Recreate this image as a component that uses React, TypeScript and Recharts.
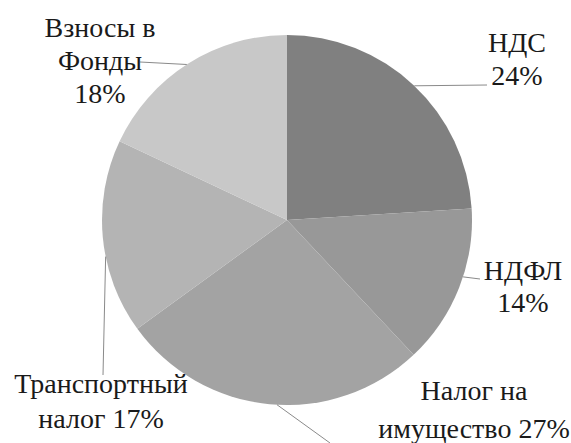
import { Cell, Pie, PieChart } from 'recharts';

// Структура налогов, %
const names = ['НДС', 'НДФЛ', 'Налог на имущество', 'Транспортный налог', 'Взносы в Фонды'];
const shares = [24, 14, 27, 17, 18];
const colors = ['#808080', '#989898', '#a3a3a3', '#b4b4b4', '#c8c8c8'];

// как подпись разбита на строки (последняя строка получает процент)
const labelRows = [['НДС', ''], ['НДФЛ', ''], ['Налог на', 'имущество'], ['Транспортный', 'налог'], ['Взносы в', 'Фонды', '']];

// раскладка подписей относительно центра круга
const labelLayout = [
  { anchorDeg: 46.5, end: [200, -135], text: [230, -168], step: 33 },
  { anchorDeg: -17.9, end: [193, 59], text: [236, 60], step: 32 },
  { anchorDeg: -93.1, end: [43, 223], text: [187, 180], step: 38 },
  { anchorDeg: -168.6, end: [-184, 155], text: [-186, 173], step: 35 },
  { anchorDeg: 122.8, end: [-147, -158], text: [-187, -183], step: 33 },
];

const chartData = names.map((name, i) => ({ name, value: shares[i] }));

const RADIAN = Math.PI / 180;
const SERIF = 'Liberation Serif';

function renderLabel(props: any) {
  const { cx, cy, outerRadius, index } = props;
  const lay = labelLayout[index];
  const ax = cx + outerRadius * Math.cos(lay.anchorDeg * RADIAN);
  const ay = cy - outerRadius * Math.sin(lay.anchorDeg * RADIAN);
  const rows = labelRows[index].map((r, j, arr) =>
    j === arr.length - 1 ? (r ? `${r} ${shares[index]}%` : `${shares[index]}%`) : r
  );
  const tx = cx + lay.text[0];
  const ty = cy + lay.text[1];
  return (
    <g key={`lbl-${index}`} fontFamily={SERIF}>
      <line x1={ax} y1={ay} x2={cx + lay.end[0]} y2={cy + lay.end[1]} stroke="#8a8a8a" strokeWidth={1} />
      {rows.map((r, j) => (
        <text
          key={j}
          x={tx}
          y={ty + j * lay.step}
          textAnchor="middle"
          fill="#1a1a1a"
          fontSize={28}
          fontFamily={SERIF}
          style={{ fontFamily: SERIF }}
        >
          {r}
        </text>
      ))}
    </g>
  );
}

export default function App() {
  return (
    <div style={{ width: 571, height: 443, background: '#fff', fontFamily: SERIF }}>
      <style>{'body{margin:0}'}</style>
      <PieChart width={571} height={443} margin={{ top: 0, right: 0, bottom: 0, left: 0 }}>
        <Pie
          data={chartData}
          dataKey="value"
          nameKey="name"
          cx={287}
          cy={220}
          outerRadius={185}
          startAngle={90}
          endAngle={-270}
          stroke="none"
          label={renderLabel}
          labelLine={false}
          isAnimationActive={false}
        >
          {chartData.map((entry, index) => (
            <Cell key={`cell-${index}`} fill={colors[index]} />
          ))}
        </Pie>
      </PieChart>
    </div>
  );
}
